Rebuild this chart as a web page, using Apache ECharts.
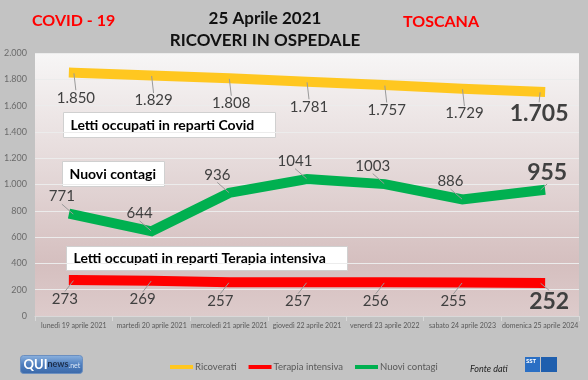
<!DOCTYPE html>
<html><head><meta charset="utf-8">
<script src="https://cdn.jsdelivr.net/npm/echarts@6/dist/echarts.min.js"></script>
<style>html,body{margin:0;padding:0;background:#c3c3c3;}#c{width:588px;height:380px;}</style>
</head><body><div id="c"></div>
<script>
const categories = ["lunedì 19 aprile 2021","martedì 20 aprile 2021","mercoledì 21 aprile 2021","giovedì 22 aprile 2021","venerdì 23 aprile 2022","sabato 24 aprile 2023","domenica 25 aprile 2024"];
const ricoverati = [1850, 1829, 1808, 1781, 1757, 1729, 1705];
const terapiaIntensiva = [273, 269, 257, 257, 256, 255, 252];
const nuoviContagi = [771, 644, 936, 1041, 1003, 886, 955];
const yTicks = {min: 0, max: 2000, interval: 200};

const FONT = 'Lato';
function itFmt(v){ return String(v).replace(/\B(?=(\d{3})+(?!\d))/g, '.'); }

function mkData(arr, fmt){
  return arr.map((v,i)=>{
    const item = {value: v};
    if(i === arr.length-1){
      item.label = {fontSize: 23, fontWeight: 'bold', color: '#404040', formatter: () => fmt(v)};
    }
    return item;
  });
}
function mkSeries(name, arr, color, fmt, off, lastOff){
  const n = arr.length;
  return {
    name: name, type: 'line', data: mkData(arr, fmt),
    symbol: 'circle', symbolSize: 1, itemStyle: {color: color},
    lineStyle: {color: color, width: 10, cap: 'square', join: 'miter'},
    label: {show: true, position: 'inside', fontFamily: FONT, fontSize: 15, color: '#404040',
      formatter: p => fmt(p.value)},
    labelLine: {show: true, lineStyle: {color: '#9a9a9a', width: 1}},
    labelLayout: p => (p.dataIndex === n-1 ? {dx: lastOff[0], dy: lastOff[1]} : {dx: off[0], dy: off[1]}),
    z: 3
  };
}

const chart = echarts.init(document.getElementById('c'), null, {renderer: 'canvas'});
chart.setOption({
  backgroundColor: '#c3c3c3',
  animation: false,
  textStyle: {fontFamily: FONT},
  title: [
    {text: '25 Aprile 2021', left: 260, top: 5, textAlign: 'center', textStyle: {fontFamily: FONT, fontSize: 17, fontWeight: 'bold', color: '#111'}},
    {text: 'RICOVERI IN OSPEDALE', left: 260, top: 27, textAlign: 'center', textStyle: {fontFamily: FONT, fontSize: 17, fontWeight: 'bold', color: '#111'}},
    {text: 'COVID - 19', left: 27, top: 8, textStyle: {fontFamily: FONT, fontSize: 16, fontWeight: 'bold', color: '#ff0000'}},
    {text: 'TOSCANA', left: 398, top: 9, textStyle: {fontFamily: FONT, fontSize: 16, fontWeight: 'bold', color: '#ff0000'}}
  ],
  grid: {left: 35, right: 9, top: 53, bottom: 64, show: true, borderWidth: 0,
    backgroundColor: {type: 'linear', x: 0, y: 0, x2: 0, y2: 1, colorStops: [
      {offset: 0, color: '#f7f6f6'}, {offset: 0.45, color: '#e4d8d8'}, {offset: 0.8, color: '#d5bfbf'}, {offset: 1, color: '#ddcbcb'}]}},
  legend: {
    left: 170, top: 362, itemWidth: 23, itemHeight: 4, itemGap: 12, icon: 'rect', padding: 0,
    textStyle: {fontFamily: FONT, fontSize: 9.5, color: '#595959', padding: [0, 0, 0, -3]},
    data: ['Ricoverati', 'Terapia intensiva', 'Nuovi contagi']
  },
  xAxis: {
    type: 'category', data: categories, boundaryGap: true,
    axisLine: {lineStyle: {color: '#d9d9d9'}},
    axisTick: {show: true, lineStyle: {color: '#d9d9d9'}},
    axisLabel: {fontFamily: FONT, fontSize: 7, color: '#595959', margin: 6, interval: 0}
  },
  yAxis: {
    type: 'value', min: yTicks.min, max: yTicks.max, interval: yTicks.interval,
    axisLine: {show: false}, axisTick: {show: false},
    axisLabel: {fontFamily: FONT, fontSize: 9, color: '#6b6b6b', margin: 8, formatter: v => itFmt(v)},
    splitLine: {lineStyle: {color: '#ececec', width: 1}}
  },
  series: [
    mkSeries('Ricoverati', ricoverati, '#ffc720', itFmt, [2, 25], [-1, 22]),
    mkSeries('Terapia intensiva', terapiaIntensiva, '#ff0000', v => String(v), [-9, 19], [9, 19]),
    mkSeries('Nuovi contagi', nuoviContagi, '#00b050', v => String(v), [-12, -18], [7, -18])
  ],
  graphic: [
    {type: 'group', left: 63, top: 112, children: [
      {type: 'rect', shape: {x: 0, y: 0, width: 212, height: 25}, style: {fill: '#fff', stroke: '#d0d0d0', lineWidth: 1}},
      {type: 'text', x: 7, y: 12.5, style: {text: 'Letti occupati in reparti Covid', font: 'bold 14px Lato', fill: '#000', textVerticalAlign: 'middle'}}
    ]},
    {type: 'group', left: 62, top: 161, children: [
      {type: 'rect', shape: {x: 0, y: 0, width: 102, height: 25}, style: {fill: '#fff', stroke: '#d0d0d0', lineWidth: 1}},
      {type: 'text', x: 7, y: 12.5, style: {text: 'Nuovi contagi', font: 'bold 14px Lato', fill: '#000', textVerticalAlign: 'middle'}}
    ]},
    {type: 'group', left: 66, top: 246, children: [
      {type: 'rect', shape: {x: 0, y: 0, width: 281, height: 24}, style: {fill: '#fff', stroke: '#d0d0d0', lineWidth: 1}},
      {type: 'text', x: 7, y: 12, style: {text: 'Letti occupati in reparti Terapia intensiva', font: 'bold 14px Lato', fill: '#000', textVerticalAlign: 'middle'}}
    ]},
    {type: 'text', left: 470, top: 365, style: {text: 'Fonte dati', font: 'italic 9px Lato', fill: '#222'}},
    {type: 'group', left: 20, top: 355, children: [
      {type: 'rect', shape: {x: 0, y: 0, width: 62, height: 18, r: 3}, style: {fill: {type: 'linear', x: 0, y: 0, x2: 0, y2: 1, colorStops: [{offset: 0, color: '#8fb4e0'}, {offset: 0.5, color: '#4f7fbf'}, {offset: 1, color: '#3a68a8'}]}, stroke: '#6b8fc0'}},
      {type: 'text', x: 3, y: 9, style: {text: 'QUI', font: 'bold 13px Lato', fill: '#fff', textVerticalAlign: 'middle'}},
      {type: 'text', x: 27, y: 9, style: {text: 'news', font: 'bold 9px Lato', fill: '#1d2e4a', textVerticalAlign: 'middle'}},
      {type: 'text', x: 48, y: 10, style: {text: '.net', font: '7px Lato', fill: '#dce8f7', textVerticalAlign: 'middle'}}
    ]},
    {type: 'group', left: 525, top: 357, children: [
      {type: 'rect', shape: {x: 0, y: 0, width: 15, height: 15}, style: {fill: '#2a6fc4'}},
      {type: 'text', x: 1, y: 4, style: {text: 'SST', font: 'bold 6px Lato', fill: '#fff', textVerticalAlign: 'middle'}},
      {type: 'rect', shape: {x: 16, y: 0, width: 16, height: 15}, style: {fill: '#1f5fae'}}
    ]}
  ]
});
</script></body></html>
